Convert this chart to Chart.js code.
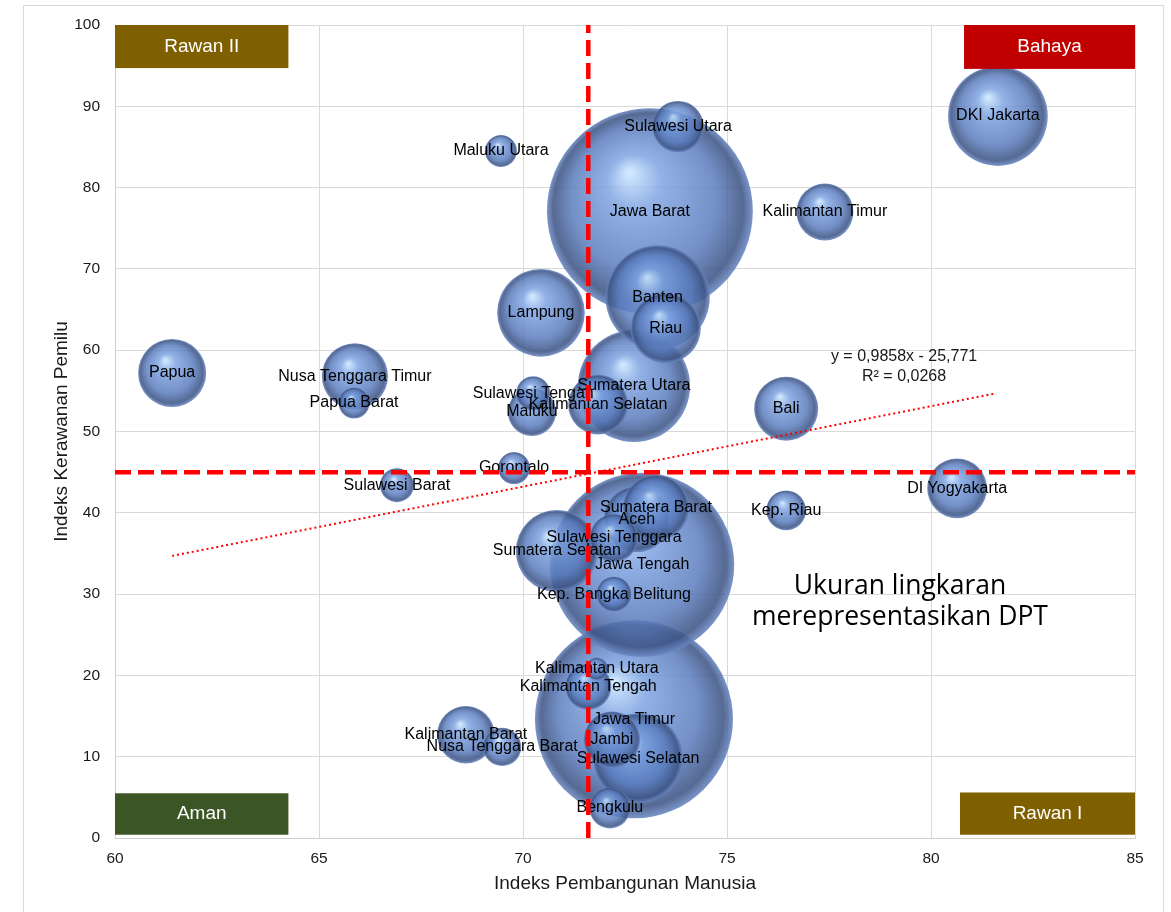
<!DOCTYPE html>
<html>
<head>
<meta charset="utf-8">
<script src="https://cdn.jsdelivr.net/npm/chart.js@4.4.1/dist/chart.umd.min.js"></script>
<style>
html,body{margin:0;padding:0;background:#fff;}
#wrap{width:1171px;height:912px;position:relative;overflow:hidden;}
canvas{display:block;}
</style>
</head>
<body>
<div id="wrap"><canvas id="c" width="1171" height="912"></canvas></div>
<script>
// ---------------- DATA ----------------
const provinces = [
  'Aceh','Sumatera Utara','Sumatera Barat','Riau','Jambi','Sumatera Selatan','Bengkulu','Lampung',
  'Kep. Bangka Belitung','Kep. Riau','DKI Jakarta','Jawa Barat','Jawa Tengah','DI Yogyakarta',
  'Jawa Timur','Banten','Bali','Nusa Tenggara Barat','Nusa Tenggara Timur','Kalimantan Barat',
  'Kalimantan Tengah','Kalimantan Selatan','Kalimantan Timur','Kalimantan Utara','Sulawesi Utara',
  'Sulawesi Tengan','Sulawesi Selatan','Sulawesi Tenggara','Gorontalo','Sulawesi Barat','Maluku',
  'Maluku Utara','Papua','Papua Barat'
];
// Indeks Pembangunan Manusia (x)
const ipm = [
  72.79, 72.72, 73.26, 73.50, 72.18, 70.83, 72.13, 70.44,
  72.23, 76.45, 81.64, 73.11, 72.92, 80.64,
  72.72, 73.30, 76.45, 69.49, 65.88, 68.60,
  71.60, 71.84, 77.40, 71.81, 73.80,
  70.25, 72.82, 72.23, 69.78, 66.91, 70.22,
  69.46, 61.40, 65.86
];
// Indeks Kerawanan Pemilu (y)
const kerawanan = [
  39.2, 55.6, 40.6, 62.7, 12.1, 35.3, 3.7, 64.6,
  30.0, 40.3, 88.8, 77.1, 33.6, 43.0,
  14.6, 66.5, 52.8, 11.2, 56.8, 12.7,
  18.6, 53.3, 77.0, 20.8, 87.5,
  54.7, 9.8, 36.9, 45.5, 43.4, 52.4,
  84.5, 57.2, 53.5
];
// DPT (juta pemilih) - bubble size
const dpt = [
  3.3, 9.5, 3.3, 3.7, 2.4, 5.1, 1.27, 5.8,
  0.92, 1.2, 7.5, 32.0, 25.6, 2.7,
  29.6, 8.2, 3.1, 1.1, 3.3, 2.5,
  1.6, 2.7, 2.45, 0.37, 2.0,
  0.87, 6.1, 1.75, 0.77, 0.87, 1.75,
  0.77, 3.5, 0.72
];
const xTicks = [60, 65, 70, 75, 80, 85];
const yTicks = [0, 10, 20, 30, 40, 50, 60, 70, 80, 90, 100];
const refIPM = 71.6;          // garis batas vertikal
const refKerawanan = 45;      // garis batas horizontal
const trendX = [61.4, 81.6];
const trendY = [34.7, 54.7];
const trendText = ['y = 0,9858x - 25,771', 'R\u00B2 = 0,0268'];
const quadrantLabels = ['Rawan II', 'Bahaya', 'Aman', 'Rawan I'];
const noteText = ['Ukuran lingkaran', 'merepresentasikan DPT'];
const xTitle = 'Indeks Pembangunan Manusia';
const yTitle = 'Indeks Kerawanan Pemilu';

// ---------------- BUILD ----------------
const FONT = '"Liberation Sans", Arial, sans-serif';
const sizeToRadius = v => 18.2 * Math.sqrt(v);

const order = provinces.map((_, i) => i).sort((a, b) => dpt[b] - dpt[a]);
const bubbleData = order.map(i => ({ x: ipm[i], y: kerawanan[i], r: sizeToRadius(dpt[i]), label: provinces[i] }));

function bubbleFill(c) {
  const chart = c.chart;
  const fallback = 'rgba(90,125,195,0.8)';
  if (c.type !== 'data' || !chart.chartArea || !c.raw) return fallback;
  const cx = chart.scales.x.getPixelForValue(c.raw.x);
  const cy = chart.scales.y.getPixelForValue(c.raw.y);
  const r = c.raw.r;
  if (![cx, cy, r].every(Number.isFinite)) return fallback;
  const g = chart.ctx.createRadialGradient(cx - r * 0.2, cy - r * 0.38, r * 0.02, cx, cy, r);
  g.addColorStop(0, 'rgba(200,228,255,0.85)');
  g.addColorStop(0.25, 'rgba(122,160,224,0.82)');
  g.addColorStop(0.7, 'rgba(88,122,188,0.84)');
  g.addColorStop(0.92, 'rgba(62,85,132,0.88)');
  g.addColorStop(1, 'rgba(105,135,195,0.88)');
  return g;
}

const framePlugin = {
  id: 'frame',
  beforeDraw(chart) {
    const ctx = chart.ctx;
    ctx.save();
    ctx.fillStyle = '#ffffff';
    ctx.fillRect(0, 0, chart.width, chart.height);
    ctx.strokeStyle = '#d9d9d9';
    ctx.lineWidth = 1;
    ctx.strokeRect(23.5, 5.5, 1140, 930);
    ctx.restore();
  }
};

const labelPlugin = {
  id: 'bubbleLabels',
  afterDatasetDraw(chart, args) {
    if (args.index !== 0) return;
    const ctx = chart.ctx;
    ctx.save();
    ctx.font = '16px ' + FONT;
    ctx.fillStyle = '#000';
    ctx.textAlign = 'center';
    ctx.textBaseline = 'middle';
    const ds = chart.data.datasets[0].data;
    args.meta.data.forEach((el, i) => ctx.fillText(ds[i].label, el.x, el.y));
    ctx.restore();
  }
};

const overlayPlugin = {
  id: 'overlay',
  afterDatasetsDraw(chart) {
    const ctx = chart.ctx;
    const xs = chart.scales.x, ys = chart.scales.y;
    const boxes = [
      { t: quadrantLabels[0], x0: 60, x1: 64.25, y0: 94.7, y1: 100, c: '#7f6000' },
      { t: quadrantLabels[1], x0: 80.81, x1: 85, y0: 94.6, y1: 100, c: '#c00000' },
      { t: quadrantLabels[2], x0: 60, x1: 64.25, y0: 0.4, y1: 5.5, c: '#3b5624' },
      { t: quadrantLabels[3], x0: 80.71, x1: 85, y0: 0.4, y1: 5.6, c: '#7f6000' }
    ];
    ctx.save();
    boxes.forEach(b => {
      const l = xs.getPixelForValue(b.x0), r = xs.getPixelForValue(b.x1);
      const t = ys.getPixelForValue(b.y1), bt = ys.getPixelForValue(b.y0);
      ctx.fillStyle = b.c;
      ctx.fillRect(l, t, r - l, bt - t);
      ctx.fillStyle = '#ffffff';
      ctx.font = '19px ' + FONT;
      ctx.textAlign = 'center';
      ctx.textBaseline = 'middle';
      ctx.fillText(b.t, (l + r) / 2, (t + bt) / 2);
    });
    // trendline equation
    ctx.fillStyle = '#1a1a1a';
    ctx.font = '16px ' + FONT;
    ctx.fillText(trendText[0], xs.getPixelForValue(79.34), ys.getPixelForValue(59.2));
    ctx.fillText(trendText[1], xs.getPixelForValue(79.34), ys.getPixelForValue(56.7));
    // note
    ctx.fillStyle = '#000';
    ctx.font = '26.5px "Open Sans", "Noto Sans", sans-serif';
    ctx.fillText(noteText[0], xs.getPixelForValue(79.24), ys.getPixelForValue(31.0));
    ctx.fillText(noteText[1], xs.getPixelForValue(79.24), ys.getPixelForValue(27.1));
    ctx.restore();
  }
};

const tickFont = { family: FONT, size: 15.5 };
const titleFont = { family: FONT, size: 19 };

new Chart(document.getElementById('c'), {
  type: 'bubble',
  data: {
    datasets: [
      {
        type: 'bubble',
        data: bubbleData,
        backgroundColor: bubbleFill,
        borderWidth: 0,
        hoverRadius: 0,
        order: 3
      },
      {
        type: 'scatter',
        data: trendX.map((x, i) => ({ x, y: trendY[i] })),
        showLine: true,
        borderColor: '#ff0000',
        borderWidth: 2,
        borderDash: [2, 3],
        pointRadius: 0,
        order: 2
      },
      {
        type: 'scatter',
        data: [{ x: refIPM, y: yTicks[0] }, { x: refIPM, y: yTicks[yTicks.length - 1] }],
        showLine: true,
        borderColor: '#ff0000',
        borderWidth: 4.5,
        borderDash: [16, 7],
        pointRadius: 0,
        order: 1
      },
      {
        type: 'scatter',
        data: [{ x: xTicks[0], y: refKerawanan }, { x: xTicks[xTicks.length - 1], y: refKerawanan }],
        showLine: true,
        borderColor: '#ff0000',
        borderWidth: 4.5,
        borderDash: [16, 7],
        pointRadius: 0,
        order: 1
      }
    ]
  },
  options: {
    responsive: false,
    animation: false,
    events: [],
    layout: { autoPadding: false, padding: { left: 0, right: 36, top: 25, bottom: 0 } },
    plugins: { legend: { display: false }, tooltip: { enabled: false } },
    scales: {
      x: {
        type: 'linear',
        min: xTicks[0], max: xTicks[xTicks.length - 1],
        afterBuildTicks: s => { s.ticks = xTicks.map(v => ({ value: v })); },
        afterFit: s => { s.height = 74; },
        ticks: { font: tickFont, color: '#1a1a1a', padding: 11, autoSkip: false, maxRotation: 0 },
        grid: { color: '#d9d9d9', drawTicks: false },
        border: { color: '#cfcfcf' },
        title: { display: true, text: xTitle, font: titleFont, color: '#1a1a1a', padding: { top: 0, bottom: 17 } }
      },
      y: {
        type: 'linear',
        min: yTicks[0], max: yTicks[yTicks.length - 1],
        afterBuildTicks: s => { s.ticks = yTicks.map(v => ({ value: v })); },
        afterFit: s => { s.width = 115; },
        ticks: { font: tickFont, color: '#1a1a1a', padding: 15, autoSkip: false },
        grid: { color: '#d9d9d9', drawTicks: false },
        border: { color: '#cfcfcf' },
        title: { display: true, text: yTitle, font: titleFont, color: '#1a1a1a', padding: { top: 50, bottom: 0 } }
      }
    }
  },
  plugins: [framePlugin, labelPlugin, overlayPlugin]
});
</script>
</body>
</html>
